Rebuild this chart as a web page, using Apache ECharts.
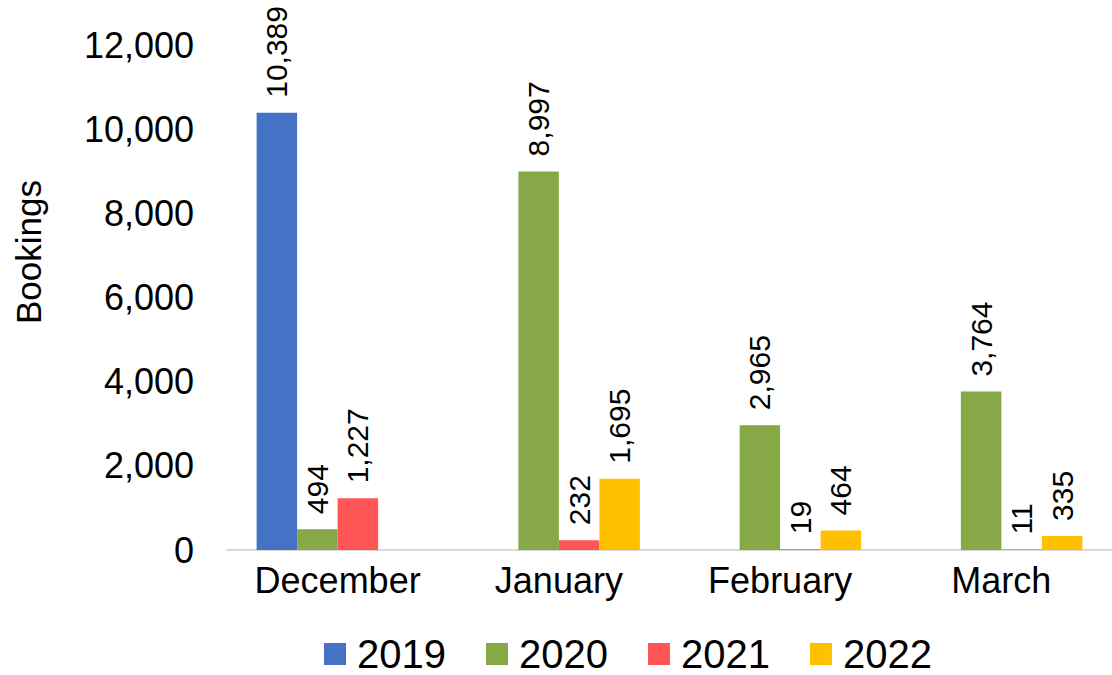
<!DOCTYPE html>
<html>
<head>
<meta charset="utf-8">
<script src="https://cdn.jsdelivr.net/npm/echarts@6/dist/echarts.min.js"></script>
<style>
html,body{margin:0;padding:0;background:#fff;}
#chart{width:1112px;height:675px;}
</style>
</head>
<body>
<div id="chart"></div>
<script>
var categories = ['December', 'January', 'February', 'March'];
var seriesNames = ['2019', '2020', '2021', '2022'];
var values2019 = [10389, null, null, null];
var values2020 = [494, 8997, 2965, 3764];
var values2021 = [1227, 232, 19, 11];
var values2022 = [null, 1695, 464, 335];
var yTicks = [0, 2000, 4000, 6000, 8000, 10000, 12000];
var colors = ['#4472C4', '#86A846', '#FF5555', '#FFC000'];
var yAxisTitle = 'Bookings';

var FONT = '"Liberation Sans", Arial, sans-serif';
function fmt(v) { return Number(v).toLocaleString('en-US'); }

var allValues = [values2019, values2020, values2021, values2022];
var series = seriesNames.map(function (name, i) {
  return {
    name: name,
    type: 'bar',
    data: allValues[i],
    barWidth: 40.5,
    barGap: '0%',
    itemStyle: { color: colors[i] },
    label: {
      show: true,
      position: 'top',
      rotate: 90,
      align: 'left',
      verticalAlign: 'middle',
      distance: 15,
      color: '#000',
      fontFamily: FONT,
      fontSize: 30,
      formatter: function (p) { return fmt(p.value); }
    }
  };
});

var chart = echarts.init(document.getElementById('chart'), null, { renderer: 'svg' });
chart.setOption({
  animation: false,
  backgroundColor: '#fff',
  color: colors,
  grid: { left: 227, top: 45, width: 893, height: 505, containLabel: false },
  legend: {
    data: seriesNames,
    left: 324,
    top: 633,
    padding: 0,
    itemWidth: 22,
    itemHeight: 22,
    itemGap: 40,
    icon: 'rect',
    textStyle: { fontFamily: FONT, fontSize: 40, lineHeight: 42, color: '#000', padding: [0, 0, 0, 6] }
  },
  graphic: [{
    type: 'text',
    x: 28,
    y: 252,
    rotation: Math.PI / 2,
    style: {
      text: yAxisTitle,
      fontFamily: FONT,
      fontSize: 35,
      fill: '#000',
      textAlign: 'center',
      textVerticalAlign: 'middle'
    }
  }],
  xAxis: {
    type: 'category',
    data: categories,
    axisLine: { show: true, lineStyle: { color: '#D9D9D9', width: 2 } },
    axisTick: { show: false },
    axisLabel: { fontFamily: FONT, fontSize: 36, color: '#000', margin: 12 }
  },
  yAxis: {
    type: 'value',
    min: yTicks[0],
    max: yTicks[yTicks.length - 1],
    interval: yTicks[1] - yTicks[0],
    axisLine: { show: false },
    axisTick: { show: false },
    splitLine: { show: false },
    axisLabel: {
      fontFamily: FONT, fontSize: 36, color: '#000', margin: 33,
      formatter: function (v) { return fmt(v); }
    }
  },
  series: series
});
</script>
</body>
</html>
